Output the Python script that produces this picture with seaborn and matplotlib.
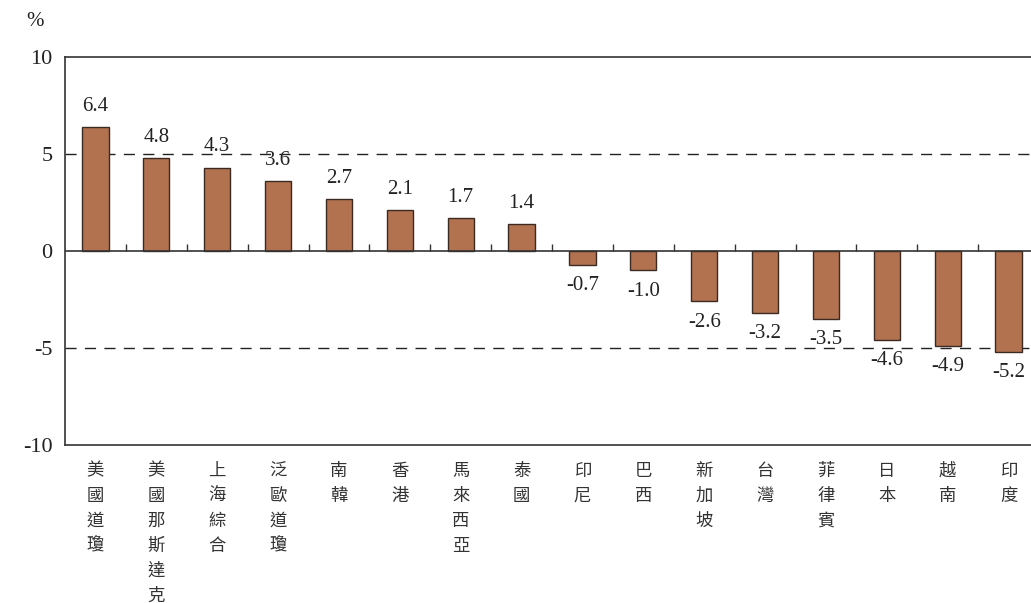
import matplotlib
matplotlib.use('Agg')
import matplotlib.pyplot as plt
import seaborn as sns
import pandas as pd

# 各市場漲跌幅 (%)
markets = ['美國道瓊', '美國那斯達克', '上海綜合', '泛歐道瓊', '南韓', '香港', '馬來西亞', '泰國',
           '印尼', '巴西', '新加坡', '台灣', '菲律賓', '日本', '越南', '印度']
changes = [6.4, 4.8, 4.3, 3.6, 2.7, 2.1, 1.7, 1.4, -0.7, -1.0, -2.6, -3.2, -3.5, -4.6, -4.9, -5.2]
yticks = [10, 5, 0, -5, -10]

df = pd.DataFrame({'market': markets, 'change': changes})

sns.set_style('white')
plt.rcParams['font.family'] = ['Liberation Serif', 'Noto Sans CJK TC']

fig = plt.figure(figsize=(10.31, 6.03), dpi=100)
ax = fig.add_axes([65 / 1031, (603 - 445) / 603, (1039 - 65) / 1031, (445 - 57) / 603])

sns.barplot(data=df, x='market', y='change', color='#b3724f', saturation=1,
            width=0.43, edgecolor='#3a2a22', linewidth=1, ax=ax)

ax.set_ylim(-10, 10)
ax.set_xlim(-0.5, len(markets) - 0.5)
ax.set_yticks(yticks)
ax.set_yticklabels([str(v) for v in yticks], fontsize=16, color='#222222')
ax.tick_params(axis='y', length=0, pad=9)

# 直書標籤
ax.set_xticks(range(len(markets)))
ax.set_xticklabels(['\n'.join(m) for m in markets], fontsize=12.5, color='#333333',
                   linespacing=1.5, va='top', family=['Noto Sans CJK TC'])
ax.tick_params(axis='x', length=0, pad=12)
ax.set_xlabel('')
ax.set_ylabel('')

for s in ax.spines.values():
    s.set_color('#333333')
    s.set_linewidth(1.2)

# 參考線
ax.axhline(0, color='#333333', lw=1.2, zorder=1)
for v in (5, -5):
    ax.axhline(v, color='#222222', lw=1, ls=(0, (8, 6)), zorder=0)
ax.vlines([i + 0.5 for i in range(len(markets) - 1)], 0, 0.35, color='#333333', lw=1)

ax.bar_label(ax.containers[0], labels=[f'{v:.1f}' for v in changes], padding=8,
             fontsize=15, color='#222222')

fig.text(35 / 1031, 1 - 22 / 603, '%', fontsize=15, ha='center', va='center', color='#222222')

fig.savefig('out.png', dpi=100)
